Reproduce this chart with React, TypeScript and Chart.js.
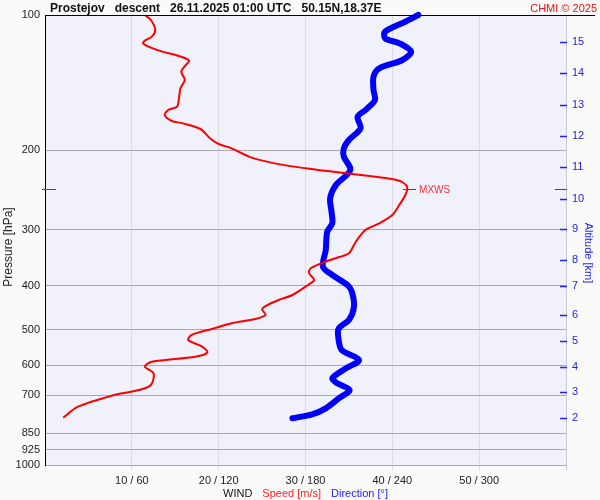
import React, { useEffect, useRef } from 'react';
import { Chart, registerables } from 'chart.js';
Chart.register(...registerables);

const FONT = '"Liberation Sans", Arial, Helvetica, sans-serif';

const titleText = 'Prostejov   descent   26.11.2025 01:00 UTC   50.15N,18.37E';
const creditText = 'CHMI © 2025';

const pressureTicks = [100, 200, 300, 400, 500, 600, 700, 850, 925, 1000];
const altitudeLabels = ['15', '14', '13', '12', '11', '10', '9', '8', '7', '6', '5', '4', '3', '2'];
const altitudePressures = [115.0, 134.7, 158.7, 185.7, 217.6, 256.4, 299.4, 349.9, 399.6, 463.4, 531.1, 605.7, 689.3, 785.1];

const speedPressure = [100, 102.6, 108.0, 111.7, 114.0, 115.6, 117.6, 120.6, 123.3, 126.3, 129.2, 133.7, 139.5, 145.5, 154.5, 159.9, 162.6, 166.8, 172.0, 173.9, 179.2, 187.9, 193.5, 197.8, 207.5, 214.5, 219.1, 224.8, 229.4, 233.5, 240.8, 251.2, 264.3, 278.3, 290.4, 300.5, 319.0, 338.6, 345.5, 353.4, 365.5, 374.4, 388.1, 396.7, 419.0, 429.9, 443.3, 450.8, 464.2, 473.8, 484.3, 498.6, 514.0, 527.5, 545.9, 561.9, 574.6, 589.5, 604.8, 625.6, 664.2, 681.4, 701.4, 742.0, 785.1];
const speedValues = [11.5, 12.2, 12.7, 12.3, 11.5, 11.3, 11.9, 13.5, 15.4, 16.6, 16.2, 15.7, 16.1, 15.6, 15.4, 15.2, 14.2, 13.8, 14.6, 15.8, 17.9, 19.0, 20.0, 21.5, 23.8, 26.9, 30.0, 34.6, 38.5, 40.8, 41.7, 41.5, 40.8, 40.0, 38.5, 36.9, 35.8, 35.0, 33.8, 32.3, 30.6, 30.4, 31.0, 30.4, 28.5, 26.9, 25.4, 25.0, 25.4, 24.2, 21.5, 19.2, 16.9, 16.5, 18.1, 18.7, 17.3, 12.3, 11.5, 12.5, 12.2, 10.8, 7.7, 3.8, 2.1];

const dirPressure = [100, 103.5, 108.9, 112.7, 115.6, 120.6, 125.9, 131.4, 137.1, 146.8, 154.5, 162.1, 168.3, 178.6, 189.6, 197.8, 206.5, 219.1, 225.9, 238.7, 255.5, 273.7, 290.4, 303.1, 332.9, 362.5, 378.3, 398.1, 412.0, 444.9, 476.0, 496.8, 518.7, 555.3, 584.4, 609.8, 641.8, 658.4, 681.4, 710.9, 748.2, 771.5, 787.4];
const dirValues = [258, 249, 235, 235, 245, 253, 247, 231, 227, 227, 228, 222, 216, 218, 210, 206.5, 206.5, 211, 209, 201, 197, 198, 198.5, 195, 194, 192, 198.5, 209, 212, 213.5, 210, 203, 202.6, 205, 217, 208, 198.5, 202, 210.5, 203, 194, 184.6, 171];

const mxwsPressure = 243.9;
const mxwsSpeed = 41.7;

const decorPlugin = {
  id: 'decor',
  beforeDraw(chart: any) {
    const { ctx, chartArea: a } = chart;
    ctx.save();
    ctx.fillStyle = '#fafafa';
    ctx.fillRect(0, 0, chart.width, chart.height);
    ctx.fillStyle = '#f1f1fc';
    ctx.fillRect(a.left, a.top, a.right - a.left, a.bottom - a.top);
    ctx.restore();
  },
  afterDraw(chart: any) {
    const { ctx, chartArea: a, scales } = chart;
    ctx.save();
    // top black line
    ctx.strokeStyle = '#000';
    ctx.lineWidth = 1;
    ctx.beginPath();
    ctx.moveTo(a.left, a.top + 0.5);
    ctx.lineTo(595, a.top + 0.5);
    ctx.stroke();
    // title
    ctx.fillStyle = '#111';
    ctx.font = 'bold 12px ' + FONT;
    ctx.textAlign = 'left';
    ctx.textBaseline = 'alphabetic';
    ctx.fillText(titleText, 50, 12);
    ctx.fillStyle = '#ee1111';
    ctx.font = '11px ' + FONT;
    ctx.textAlign = 'right';
    ctx.fillText(creditText, 597, 12);
    // axis titles
    ctx.save();
    ctx.translate(12, 247);
    ctx.rotate(-Math.PI / 2);
    ctx.textAlign = 'center';
    ctx.fillStyle = '#222';
    ctx.font = '12px ' + FONT;
    ctx.fillText('Pressure [hPa]', 0, 0);
    ctx.restore();
    ctx.save();
    ctx.translate(585, 253);
    ctx.rotate(Math.PI / 2);
    ctx.textAlign = 'center';
    ctx.fillStyle = '#2222ee';
    ctx.font = '11px ' + FONT;
    ctx.fillText('Altitude [km]', 0, 0);
    ctx.restore();
    // bottom wind label
    ctx.font = '11px ' + FONT;
    ctx.textAlign = 'left';
    const parts = [
      { t: 'WIND', c: '#111' },
      { t: 'Speed [m/s]', c: '#ff2020' },
      { t: 'Direction [°]', c: '#2020ff' },
    ];
    const gap = 10;
    const widths = parts.map((p) => ctx.measureText(p.t).width);
    const total = widths.reduce((s, w) => s + w, 0) + gap * (parts.length - 1);
    let x = (a.left + a.right) / 2 - total / 2;
    parts.forEach((p, i) => {
      ctx.fillStyle = p.c;
      ctx.fillText(p.t, x, 497);
      x += widths[i] + gap;
    });
    // altitude tick dashes
    const alt = scales.alt;
    ctx.strokeStyle = '#2222ee';
    ctx.lineWidth = 1.5;
    alt.ticks.forEach((t: any) => {
      const y = Math.round(alt.getPixelForValue(t.value)) + 0.5;
      ctx.beginPath();
      ctx.moveTo(a.right - 6, y);
      ctx.lineTo(a.right + 1, y);
      ctx.stroke();
    });
    // MXWS
    const my = Math.round(scales.y.getPixelForValue(mxwsPressure)) + 0.5;
    const mx = scales.x.getPixelForValue(mxwsSpeed);
    ctx.strokeStyle = '#ff0000';
    ctx.lineWidth = 1;
    ctx.beginPath();
    ctx.moveTo(mx - 4, my);
    ctx.lineTo(mx + 9, my);
    ctx.moveTo(a.left - 3, my);
    ctx.lineTo(a.left + 11, my);
    ctx.moveTo(a.right - 11, my);
    ctx.lineTo(a.right + 1, my);
    ctx.stroke();
    ctx.fillStyle = '#ff3030';
    ctx.font = '10px ' + FONT;
    ctx.textAlign = 'left';
    ctx.textBaseline = 'middle';
    ctx.fillText('MXWS', mx + 12, my + 1);
    ctx.restore();
  },
};

export default function App() {
  const ref = useRef<HTMLCanvasElement | null>(null);
  useEffect(() => {
    document.body.style.margin = '0';
    const canvas = ref.current;
    if (!canvas) return;
    const chart = new Chart(canvas, {
      type: 'line',
      data: {
        datasets: [
          {
            label: 'Speed',
            data: speedPressure.map((p, i) => ({ x: speedValues[i], y: p })),
            borderColor: '#ff0000',
            borderWidth: 2,
            pointRadius: 0,
            tension: 0.3,
            xAxisID: 'x',
            yAxisID: 'y',
          },
          {
            label: 'Direction',
            data: dirPressure.map((p, i) => ({ x: dirValues[i], y: p })),
            borderColor: '#0000ff',
            borderWidth: 6,
            borderCapStyle: 'round',
            borderJoinStyle: 'round',
            pointRadius: 0,
            tension: 0.3,
            xAxisID: 'x2',
            yAxisID: 'y',
            clip: 8,
          },
        ],
      } as any,
      options: {
        animation: false,
        responsive: false,
        devicePixelRatio: 1,
        parsing: false,
        layout: { padding: { top: 15, left: 0, right: 0, bottom: 0 } },
        plugins: {
          legend: { display: false },
          title: { display: false },
          tooltip: { enabled: false },
        },
        events: [],
        scales: {
          x: {
            type: 'linear',
            position: 'bottom',
            min: 0,
            max: 60,
            afterFit: (s: any) => { s.height = 35; },
            ticks: {
              stepSize: 10,
              autoSkip: false,
              maxRotation: 0,
              padding: 4,
              color: '#222',
              font: { family: FONT, size: 11 },
              callback: (v: any) => (v === 0 || v === 60 ? '' : `${v} / ${v * 6}`),
            },
            grid: {
              color: (c: any) => (c.tick && c.tick.value === 60 ? '#c8c8d4' : '#dcdcdc'),
              tickLength: 5,
            },
            border: { display: false },
          },
          x2: {
            type: 'linear',
            display: false,
            min: 0,
            max: 360,
          },
          y: {
            type: 'logarithmic',
            position: 'left',
            min: 100,
            max: 1000,
            reverse: true,
            afterFit: (s: any) => { s.width = 45; },
            afterBuildTicks: (s: any) => { s.ticks = pressureTicks.map((v) => ({ value: v })); },
            ticks: {
              autoSkip: false,
              padding: 5,
              color: '#222',
              font: { family: FONT, size: 11 },
              callback: (v: any) => String(v),
            },
            grid: {
              drawTicks: false,
              color: (c: any) => (c.tick && c.tick.value === 100 ? 'rgba(0,0,0,0)' : '#aaaaaa'),
            },
            border: { display: true, color: '#000', width: 1 },
          },
          alt: {
            type: 'logarithmic',
            position: 'right',
            min: 100,
            max: 1000,
            reverse: true,
            afterFit: (s: any) => { s.width = 34; },
            afterBuildTicks: (s: any) => { s.ticks = altitudePressures.map((v) => ({ value: v })); },
            ticks: {
              autoSkip: false,
              padding: 6,
              color: '#2222ee',
              font: { family: FONT, size: 11 },
              callback: (_v: any, i: number) => altitudeLabels[i],
            },
            grid: { display: false, drawTicks: false },
            border: { display: false },
          },
        },
      } as any,
      plugins: [decorPlugin],
    });
    return () => chart.destroy();
  }, []);
  return (
    <div style={{ width: 600, height: 500 }}>
      <canvas ref={ref} width={600} height={500} style={{ display: 'block' }} />
    </div>
  );
}
